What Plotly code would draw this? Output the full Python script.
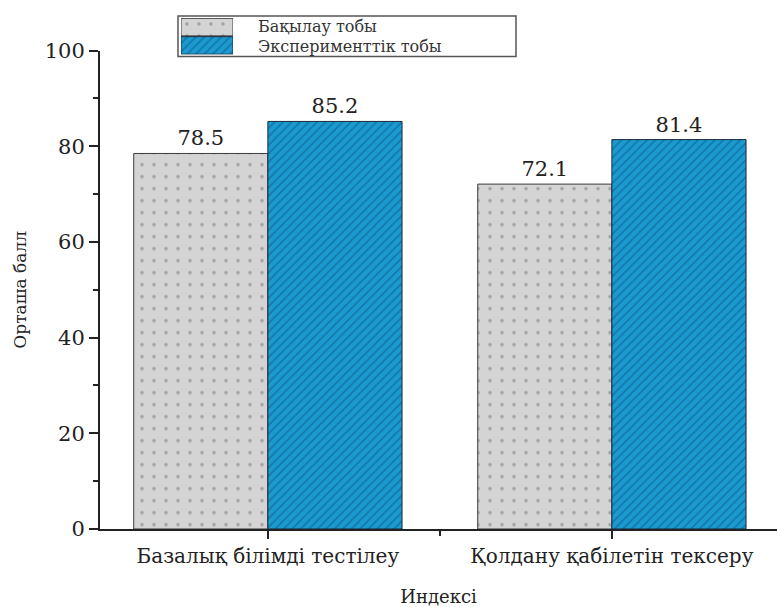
import plotly.graph_objects as go

# Data
categories = ["Базалық білімді тестілеу", "Қолдану қабілетін тексеру"]
control_scores = [78.5, 72.1]
experiment_scores = [85.2, 81.4]
series_names = ["Бақылау тобы", "Эксперименттік тобы"]
y_ticks = [0, 20, 40, 60, 80, 100]

FONT = "DejaVu Serif"
GRAY_BG = "#d4d4d4"
GRAY_DOT = "#707070"
BLUE_BG = "#1a9ad0"
BLUE_LINE = "#0d5580"
EDGE = "#3a3a3a"

BAR_W = 0.39
xpos = list(range(len(categories)))

gray_marker = dict(
    color=GRAY_BG,
    line=dict(color=EDGE, width=1),
    pattern=dict(shape=".", fgcolor=GRAY_DOT, bgcolor=GRAY_BG, size=12, solidity=0.07),
)
blue_marker = dict(
    color=BLUE_BG,
    line=dict(color="#1a2a3a", width=1),
    pattern=dict(shape="/", fgcolor=BLUE_LINE, bgcolor=BLUE_BG, size=6, solidity=0.3),
)

fig = go.Figure()
fig.add_trace(go.Bar(
    x=xpos, y=control_scores, width=BAR_W, offset=-BAR_W,
    marker=gray_marker, name=series_names[0], showlegend=False,
    texttemplate="%{y:.1f}", textposition="outside",
    textfont=dict(family=FONT, size=21, color="#222"), cliponaxis=False,
))
fig.add_trace(go.Bar(
    x=xpos, y=experiment_scores, width=BAR_W, offset=0,
    marker=blue_marker, name=series_names[1], showlegend=False,
    texttemplate="%{y:.1f}", textposition="outside",
    textfont=dict(family=FONT, size=21, color="#222"), cliponaxis=False,
))

# Legend swatches drawn on a small auxiliary axis pair
fig.add_trace(go.Bar(
    x=[1], y=[1], orientation="h", width=0.96, base=0,
    marker=gray_marker, showlegend=False, hoverinfo="skip",
    xaxis="x2", yaxis="y2",
))
fig.add_trace(go.Bar(
    x=[1], y=[0], orientation="h", width=0.96, base=0,
    marker=blue_marker, showlegend=False, hoverinfo="skip",
    xaxis="x2", yaxis="y2",
))

# Plot area: left 100, right 777, top 8, bottom 530 (px)
L, R, T, B = 100, 777, 8, 530
W, H = R - L, B - T


def px_x(p):
    return (p - L) / W


def px_y(p):
    return (B - p) / H


fig.update_layout(
    width=777, height=607,
    margin=dict(l=L, r=777 - R, t=T, b=607 - B, pad=0),
    paper_bgcolor="white", plot_bgcolor="white",
    barmode="overlay",
    font=dict(family=FONT, color="#222"),
    xaxis=dict(
        range=[-0.488, 1.48],
        tickvals=xpos, ticktext=categories,
        tickfont=dict(family=FONT, size=20, color="#222"),
        ticks="outside", ticklen=8, tickwidth=1.5, tickcolor="#222",
        minor=dict(tickvals=[0.5], ticks="outside", ticklen=5, tickwidth=1.5, tickcolor="#222"),
        showline=True, linecolor="#222", linewidth=2,
        showgrid=False, zeroline=False,
        title=dict(text="Индексі", font=dict(family=FONT, size=18, color="#222"), standoff=26),
    ),
    yaxis=dict(
        domain=[0, px_y(47)],
        range=[0, 100],
        tickvals=y_ticks,
        tickfont=dict(family=FONT, size=21, color="#222"),
        ticks="outside", ticklen=9, tickwidth=1.5, tickcolor="#222",
        minor=dict(dtick=10, tick0=0, ticks="outside", ticklen=5, tickwidth=1.5, tickcolor="#222"),
        showline=True, linecolor="#222", linewidth=2,
        showgrid=False, zeroline=False,
        title=dict(text="Орташа балл", font=dict(family=FONT, size=17, color="#222"), standoff=14),
    ),
    xaxis2=dict(domain=[px_x(181), px_x(233)], range=[0, 1], visible=False, fixedrange=True, anchor="y2"),
    yaxis2=dict(domain=[px_y(51), px_y(14)], range=[-0.5, 1.5], visible=False, fixedrange=True, anchor="x2"),
    shapes=[dict(
        type="rect", xref="paper", yref="paper",
        x0=px_x(178), x1=px_x(516), y0=px_y(53), y1=px_y(12),
        line=dict(color="#555", width=1.5), fillcolor="rgba(0,0,0,0)", layer="below",
    )],
    annotations=[
        dict(text=series_names[0], xref="paper", yref="paper", x=px_x(257), y=px_y(23),
             xanchor="left", yanchor="middle", showarrow=False, borderpad=0,
             font=dict(family=FONT, size=16, color="#333")),
        dict(text=series_names[1], xref="paper", yref="paper", x=px_x(257), y=px_y(43),
             xanchor="left", yanchor="middle", showarrow=False, borderpad=0,
             font=dict(family=FONT, size=16, color="#333")),
    ],
)

fig.write_html("out.html")
